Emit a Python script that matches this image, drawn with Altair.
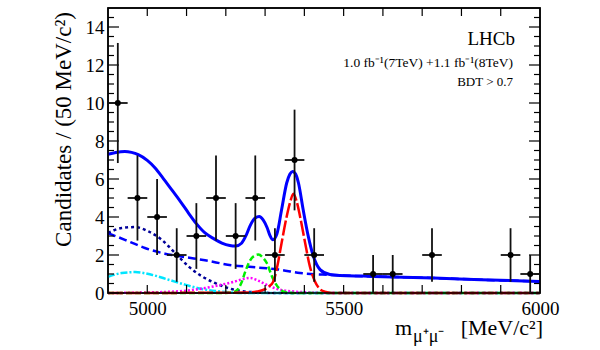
import altair as alt
import pandas as pd

# ---------------- data ----------------
bin_mass = [4925, 4975, 5025, 5075, 5125, 5175, 5225, 5275, 5325, 5375, 5425, 5575, 5625, 5725, 5925, 5975]
bin_count = [10, 5, 4, 2, 3, 5, 3, 5, 2, 7, 2, 1, 1, 2, 2, 1]
bin_err = [3.16, 2.24, 2.0, 1.41, 1.73, 2.24, 1.73, 2.24, 1.41, 2.65, 1.41, 1.0, 1.0, 1.41, 1.41, 1.0]
bin_half = 25

total_m = [4900, 4920, 4943, 4960, 4977, 5000, 5020, 5040, 5062, 5085, 5105, 5125, 5147, 5170, 5190, 5210,
           5225, 5240, 5252, 5262, 5275, 5285, 5295, 5305, 5312, 5320, 5330, 5342, 5355, 5363, 5370, 5378,
           5385, 5397, 5410, 5423, 5440, 5465, 5491, 5550, 5600, 5730, 5850, 6000]
total_v = [7.30, 7.40, 7.45, 7.40, 7.28, 6.98, 6.58, 6.05, 5.44, 4.80, 4.21, 3.65, 3.16, 2.85, 2.63, 2.50,
           2.47, 2.62, 3.05, 3.55, 3.95, 4.02, 3.85, 3.45, 3.05, 2.80, 3.10, 4.38, 5.79, 6.25, 6.40, 6.25,
           5.79, 4.38, 2.98, 1.93, 1.23, 0.97, 0.92, 0.89, 0.86, 0.79, 0.70, 0.61]

comb_m = [4900, 4943, 4994, 5045, 5096, 5147, 5219, 5260, 5304, 5330, 5389, 5465, 5600, 5730, 5850, 6000]
comb_v = [3.15, 2.80, 2.37, 2.07, 1.89, 1.72, 1.45, 1.38, 1.30, 1.25, 1.05, 0.95, 0.86, 0.79, 0.70, 0.61]

navy_m = [4900, 4935, 4969, 5003, 5037, 5071, 5105, 5139, 5172, 5206, 5240, 5280, 5330, 6000]
navy_v = [3.16, 3.42, 3.47, 3.24, 2.80, 2.10, 1.40, 0.88, 0.53, 0.26, 0.10, 0.03, 0.0, 0.0]

cyan_m = [4900, 4935, 4969, 5011, 5054, 5096, 5139, 5181, 5220, 5260, 6000]
cyan_v = [0.85, 1.05, 1.10, 0.96, 0.70, 0.44, 0.21, 0.09, 0.02, 0.0, 0.0]

mag_m = [4900, 4980, 5050, 5100, 5147, 5190, 5219, 5245, 5262, 5275, 5287, 5312, 5338, 5372, 5410, 5460, 6000]
mag_v = [0.0, 0.02, 0.06, 0.12, 0.26, 0.44, 0.58, 0.74, 0.79, 0.72, 0.61, 0.35, 0.17, 0.08, 0.03, 0.0, 0.0]

green_m = [4900, 5200, 5220, 5230, 5240, 5250, 5260, 5272, 5283, 5295, 5305, 5317, 5328, 5338, 5350, 5370, 6000]
green_v = [0.0, 0.0, 0.05, 0.18, 0.55, 1.15, 1.65, 1.95, 2.02, 1.85, 1.55, 0.90, 0.45, 0.20, 0.06, 0.0, 0.0]

red_m = [4900, 5250, 5280, 5300, 5310, 5321, 5331, 5342, 5355, 5364, 5372, 5380, 5389, 5402, 5414, 5427, 5440, 5455, 5470, 6000]
red_v = [0.0, 0.02, 0.08, 0.20, 0.35, 0.61, 1.40, 2.63, 4.03, 4.80, 5.23, 4.85, 4.03, 2.63, 1.40, 0.61, 0.20, 0.05, 0.0, 0.0]

x_labels = [5000, 5500, 6000]
y_labels = [0, 2, 4, 6, 8, 10, 12, 14]
x_ticks = [5000, 5100, 5200, 5300, 5400, 5500, 5600, 5700, 5800, 5900]
y_major = [0, 2, 4, 6, 8, 10, 12, 14]
y_minor = [0.5, 1, 1.5, 2.5, 3, 3.5, 4.5, 5, 5.5, 6.5, 7, 7.5, 8.5, 9, 9.5, 10.5, 11, 11.5,
           12.5, 13, 13.5, 14.5]

# ---------------- layout ----------------
W, H = 432, 285
FONT = "Liberation Serif"
xs = alt.Scale(domain=[4900, 6000], nice=False, zero=False)
ys = alt.Scale(domain=[0, 15], nice=False, zero=False)

pts = pd.DataFrame({"m": bin_mass, "n": bin_count, "e": bin_err})
pts["lo"] = pts["n"] - pts["e"]
pts["hi"] = pts["n"] + pts["e"]
pts["ml"] = pts["m"] - bin_half
pts["mh"] = pts["m"] + bin_half

AX = alt.Axis(values=x_labels, format="d", ticks=False, domain=False, grid=False,
              labelFont=FONT, labelFontSize=19, labelPadding=6, labelFlush=False,
              labelColor="black", title=None)
AY = alt.Axis(values=y_labels, format="d", ticks=False, domain=False, grid=False,
              labelFont=FONT, labelFontSize=19, labelPadding=4, labelColor="black", title=None)


def X(field):
    return alt.X(field, type="quantitative", scale=xs, axis=AX)


def Y(field):
    return alt.Y(field, type="quantitative", scale=ys, axis=AY)


def curve(ms, vs, color, dash=None, width=2.5):
    df = pd.DataFrame({"m": ms, "v": vs})
    kw = dict(color=color, strokeWidth=width, interpolate="monotone")
    if dash is not None:
        kw["strokeDash"] = dash
    return alt.Chart(df).mark_line(**kw).encode(x=X("m"), y=Y("v"))


def text(txt, x, y, size, align="right", angle=None):
    kw = dict(font=FONT, fontSize=size, align=align, baseline="alphabetic", color="black")
    if angle is not None:
        kw["angle"] = angle
    return alt.Chart(pd.DataFrame({"a": [0]})).mark_text(**kw).encode(
        x=alt.value(x), y=alt.value(y), text=alt.value(txt))


layers = [
    curve(comb_m, comb_v, "#0000ff", [8, 4], 2.5),
    curve(navy_m, navy_v, "#000099", [3, 3], 2.5),
    curve(cyan_m, cyan_v, "#00e5ff", [7, 2, 2, 2], 2.5),
    curve(mag_m, mag_v, "#ff00ff", [2, 2], 2.5),
    curve(green_m, green_v, "#00ee00", [6, 3], 2.5),
    curve(red_m, red_v, "#ff0000", [15, 3], 2.5),
    curve(total_m, total_v, "#0000ff", None, 3),
]

# inner ticks (drawn as tick marks positioned through the scales)
xt = pd.DataFrame({"t": x_ticks})
ymj = pd.DataFrame({"t": y_major})
ymn = pd.DataFrame({"t": y_minor})
layers += [
    alt.Chart(xt).mark_tick(orient="vertical", size=8, thickness=1.2, color="black", opacity=1).encode(
        x=X("t"), y=alt.value(H - 4)),
    alt.Chart(xt).mark_tick(orient="vertical", size=8, thickness=1.2, color="black", opacity=1).encode(
        x=X("t"), y=alt.value(4)),
    alt.Chart(ymj).mark_tick(orient="horizontal", size=11, thickness=1.2, color="black", opacity=1).encode(
        y=Y("t"), x=alt.value(5.5)),
    alt.Chart(ymj).mark_tick(orient="horizontal", size=11, thickness=1.2, color="black", opacity=1).encode(
        y=Y("t"), x=alt.value(W - 5.5)),
    alt.Chart(ymn).mark_tick(orient="horizontal", size=6, thickness=1.2, color="black", opacity=1).encode(
        y=Y("t"), x=alt.value(3)),
    alt.Chart(ymn).mark_tick(orient="horizontal", size=6, thickness=1.2, color="black", opacity=1).encode(
        y=Y("t"), x=alt.value(W - 3)),
]

# frame
layers += [
    alt.Chart(pd.DataFrame({"a": [0]})).mark_rect(filled=False, stroke="black", strokeWidth=1.5, fill=None).encode(
        x=alt.value(0), x2=alt.value(W), y=alt.value(0), y2=alt.value(H)),
]

# data points with error bars
layers += [
    alt.Chart(pts).mark_rule(color="#111111", strokeWidth=1.8).encode(x=X("m"), y=Y("lo"), y2="hi"),
    alt.Chart(pts).mark_rule(color="#111111", strokeWidth=1.8).encode(x=X("ml"), x2="mh", y=Y("n")),
    alt.Chart(pts).mark_circle(color="black", size=36, opacity=1).encode(x=X("m"), y=Y("n")),
]

# texts
layers += [
    text("LHCb", 407, 37, 19),
    text("1.0 fb\u207b\u00b9(7TeV) +1.1 fb\u207b\u00b9(8TeV)", 405, 59, 13.5),
    text("BDT > 0.7", 405, 78, 13),
    text("Candidates / (50 MeV/c\u00b2)", -37, 4, 23, align="right", angle=270),
    text("[MeV/c\u00b2]", 435, 327, 22),
    text("m", 304, 327, 22),
    text("\u03bc\u207a\u03bc\u207b", 305, 334, 18, align="left"),
]

chart = alt.layer(*layers).properties(
    width=W, height=H,
    autosize=alt.AutoSizeParams(type="none"),
    padding={"left": 108, "top": 8, "right": 60, "bottom": 57},
    background="white",
).configure_view(stroke="black", strokeWidth=1.5)

chart.save("out.html", embed_options={"renderer": "svg", "actions": False})
